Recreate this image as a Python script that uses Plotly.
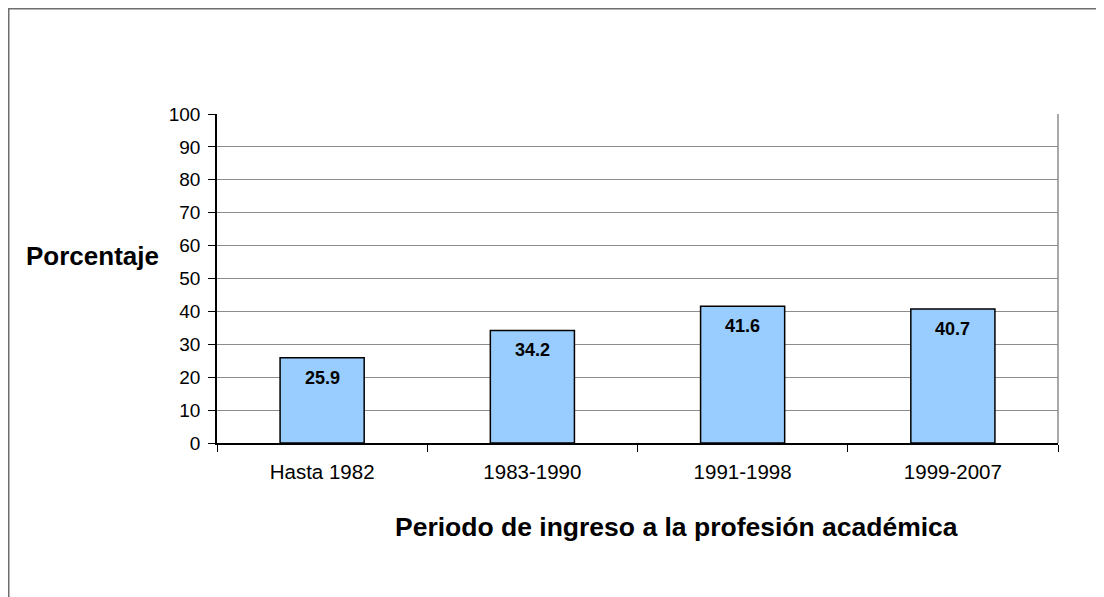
import plotly.graph_objects as go

categories = ["Hasta 1982", "1983-1990", "1991-1998", "1999-2007"]
values = [25.9, 34.2, 41.6, 40.7]
value_labels = ["25.9", "34.2", "41.6", "40.7"]
y_title = "Porcentaje"
x_title = "Periodo de ingreso a la profesión académica"

# page body has an 8px margin; work in screenshot pixels and offset
OFF = 8
W, H = 1104 - OFF, 597 - OFF
L, R, T, B = 217 - OFF, 1058 - OFF, 114 - OFF, 443 - OFF
pw, ph = R - L, B - T

def px(x):
    return (x - OFF - L) / pw

def py(y):
    return (B - (y - OFF)) / ph

FONT = "Liberation Sans, Arial, sans-serif"

fig = go.Figure()
fig.add_trace(go.Bar(
    x=categories, y=values, width=0.4,
    marker=dict(color="#99CCFF", line=dict(color="#000000", width=1.5)),
    hoverinfo="skip",
))

for c, v, t in zip(categories, values, value_labels):
    fig.add_annotation(x=c, y=v, text="<b>%s</b>" % t, showarrow=False,
                       yshift=-20, yanchor="middle",
                       font=dict(family=FONT, size=18, color="#000000"))

fig.add_annotation(xref="paper", yref="paper", x=px(92), y=py(256),
                   text="<b>%s</b>" % y_title, showarrow=False,
                   xanchor="center", yanchor="middle",
                   font=dict(family=FONT, size=26, color="#000000"))
fig.add_annotation(xref="paper", yref="paper", x=px(676), y=py(527),
                   text="<b>%s</b>" % x_title, showarrow=False,
                   xanchor="center", yanchor="middle",
                   font=dict(family=FONT, size=26.5, color="#000000"))

# outer chart frame
fig.add_shape(type="rect", xref="paper", yref="paper",
              x0=px(8.75), x1=px(1130), y0=py(640), y1=py(8.75),
              line=dict(color="#6e6e6e", width=1.5), layer="below")
# right plot border
fig.add_shape(type="line", xref="paper", yref="paper",
              x0=1, x1=1, y0=0, y1=1,
              line=dict(color="#8c8c8c", width=1.5), layer="below")

fig.update_layout(
    width=W, height=H,
    margin=dict(l=L, r=W - R, t=T, b=H - B, autoexpand=False),
    paper_bgcolor="white", plot_bgcolor="white",
    showlegend=False, bargap=0.6,
    font=dict(family=FONT, color="#000000"),
    xaxis=dict(
        showline=True, linecolor="#000000", linewidth=1.5,
        ticks="outside", tickson="boundaries", ticklen=7, tickcolor="#000000",
        tickfont=dict(size=20.5), showgrid=False, ticklabelstandoff=10,
    ),
    yaxis=dict(
        range=[0, 100], dtick=10, tick0=0,
        showline=True, linecolor="#000000", linewidth=1.5,
        ticks="outside", ticklen=7, tickcolor="#000000",
        tickfont=dict(size=19), showgrid=True, gridcolor="#8c8c8c", gridwidth=1,
        zeroline=False, ticklabelstandoff=4,
    ),
)

fig.write_html("out.html")
